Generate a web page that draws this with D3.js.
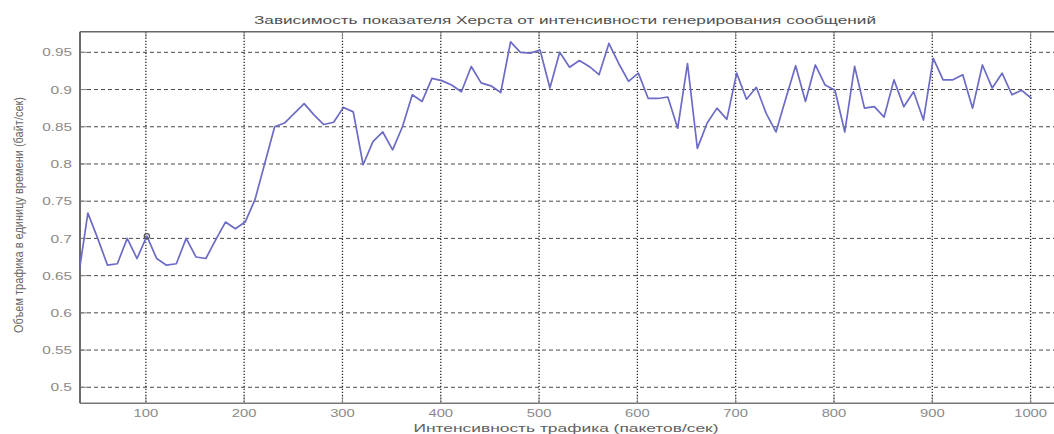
<!DOCTYPE html>
<html>
<head>
<meta charset="utf-8">
<script src="https://cdn.jsdelivr.net/npm/d3@7"></script>
<style>
  html, body { margin: 0; padding: 0; background: #fff; }
  svg { display: block; }
  text { font-family: "Liberation Sans", Arial, sans-serif; }
</style>
</head>
<body>
<svg id="chart" width="1054" height="434"></svg>
<script>
// ---- data ----
const xValues = [31,41,51,61,71,81,91,101,111,121,131,141,151,161,171,181,191,201,211,221,
  231,241,251,261,271,281,291,301,311,321,331,341,351,361,371,381,391,401,411,421,
  431,441,451,461,471,481,491,501,511,521,531,541,551,561,571,581,591,601,611,621,
  631,641,651,661,671,681,691,701,711,721,731,741,751,761,771,781,791,801,811,821,
  831,841,851,861,871,881,891,901,911,921,931,941,951,961,971,981,991,1001];
const hurstValues = [0.645,0.734,0.700,0.664,0.666,0.700,0.673,0.703,0.673,0.664,0.666,0.700,0.675,0.673,0.698,0.722,0.713,0.722,0.752,0.801,
  0.850,0.855,0.868,0.881,0.866,0.853,0.856,0.876,0.870,0.799,0.830,0.843,0.819,0.850,0.893,0.884,0.915,0.912,0.906,0.897,
  0.931,0.909,0.905,0.896,0.964,0.950,0.949,0.953,0.902,0.950,0.930,0.939,0.931,0.920,0.962,0.935,0.911,0.922,0.888,0.888,
  0.890,0.848,0.935,0.821,0.855,0.875,0.860,0.922,0.887,0.903,0.868,0.843,0.888,0.932,0.884,0.933,0.906,0.899,0.843,0.931,
  0.875,0.877,0.863,0.913,0.877,0.897,0.859,0.942,0.913,0.913,0.920,0.875,0.933,0.902,0.922,0.893,0.899,0.888];
const markerPoint = [101, 0.703];
const xTicks = [100,200,300,400,500,600,700,800,900,1000];
const yTicks = [0.5,0.55,0.6,0.65,0.7,0.75,0.8,0.85,0.9,0.95];
const yTickLabels = ["0.5","0.55","0.6","0.65","0.7","0.75","0.8","0.85","0.9","0.95"];
const titleText = "Зависимость показателя Херста от интенсивности генерирования сообщений";
const xLabelText = "Интенсивность трафика (пакетов/сек)";
const yLabelText = "Объем трафика в единицу времени (байт/сек)";

// ---- layout ----
const svg = d3.select("#chart");
const pLeft = 80, pTop = 31.7, pBottom = 403.3, pRight = 1065;
const x = d3.scaleLinear().domain([33, 1035]).range([pLeft, pRight]);
const y = d3.scaleLinear().domain([0.4785, 0.9777]).range([pBottom, pTop]);

svg.append("rect").attr("width", 1054).attr("height", 434).attr("fill", "#fff");

svg.append("defs").append("clipPath").attr("id", "plotclip")
  .append("rect").attr("x", pLeft).attr("y", pTop).attr("width", pRight - pLeft).attr("height", pBottom - pTop);

// grid: horizontal dashed
svg.append("g").selectAll("line").data(yTicks).join("line")
  .attr("x1", pLeft).attr("x2", pRight)
  .attr("y1", d => y(d)).attr("y2", d => y(d))
  .attr("stroke", "#4a4a4a").attr("stroke-width", 1)
  .attr("stroke-dasharray", "4,3");

// grid: vertical dotted
svg.append("g").selectAll("line").data(xTicks).join("line")
  .attr("x1", d => x(d)).attr("x2", d => x(d))
  .attr("y1", pTop).attr("y2", pBottom)
  .attr("stroke", "#2a2a2a").attr("stroke-width", 1.3)
  .attr("stroke-dasharray", "1.3,1.7");

// tick marks (inward)
svg.append("g").selectAll("line").data(xTicks).join("line")
  .attr("x1", d => x(d)).attr("x2", d => x(d))
  .attr("y1", pBottom).attr("y2", pBottom - 7)
  .attr("stroke", "#888").attr("stroke-width", 1);
svg.append("g").selectAll("line").data(xTicks).join("line")
  .attr("x1", d => x(d)).attr("x2", d => x(d))
  .attr("y1", pTop).attr("y2", pTop + 7)
  .attr("stroke", "#888").attr("stroke-width", 1);
svg.append("g").selectAll("line").data(yTicks).join("line")
  .attr("x1", pLeft).attr("x2", pLeft + 7)
  .attr("y1", d => y(d)).attr("y2", d => y(d))
  .attr("stroke", "#888").attr("stroke-width", 1);

// frame
svg.append("line").attr("x1", pLeft).attr("x2", pLeft).attr("y1", pTop).attr("y2", pBottom)
  .attr("stroke", "#6a6a6a").attr("stroke-width", 2);
svg.append("line").attr("x1", pLeft).attr("x2", pRight).attr("y1", pBottom).attr("y2", pBottom)
  .attr("stroke", "#777").attr("stroke-width", 1.6);
svg.append("line").attr("x1", pLeft).attr("x2", pRight).attr("y1", pTop).attr("y2", pTop)
  .attr("stroke", "#666").attr("stroke-width", 1.4);

// data line
const pts = xValues.map((v, i) => [v, hurstValues[i]]);
svg.append("path").datum(pts)
  .attr("clip-path", "url(#plotclip)")
  .attr("fill", "none")
  .attr("stroke", "#6c6cc6")
  .attr("stroke-width", 1.7)
  .attr("stroke-linejoin", "round")
  .attr("d", d3.line().x(d => x(d[0])).y(d => y(d[1])));

// marker
svg.append("circle")
  .attr("cx", x(markerPoint[0])).attr("cy", y(markerPoint[1])).attr("r", 2.6)
  .attr("fill", "none").attr("stroke", "#555").attr("stroke-width", 1.2);

// tick labels
function labelLen(s) {
  let n = 0;
  for (const c of s) n += (c === ".") ? 5.2 : 8.2;
  return n;
}
svg.append("g").selectAll("text").data(yTicks).join("text")
  .attr("x", pLeft - 8).attr("y", d => y(d))
  .attr("dy", "0.36em")
  .attr("text-anchor", "end")
  .attr("font-size", "11.5px").attr("fill", "#8a8a8a")
  .attr("textLength", (d, i) => labelLen(yTickLabels[i]))
  .attr("lengthAdjust", "spacingAndGlyphs")
  .text((d, i) => yTickLabels[i]);

svg.append("g").selectAll("text").data(xTicks).join("text")
  .attr("x", d => x(d)).attr("y", 416.5)
  .attr("text-anchor", "middle")
  .attr("font-size", "11.5px").attr("fill", "#8a8a8a")
  .attr("textLength", d => labelLen(String(d)))
  .attr("lengthAdjust", "spacingAndGlyphs")
  .text(d => String(d));

// title
svg.append("text")
  .attr("x", 565).attr("y", 23.5)
  .attr("text-anchor", "middle")
  .attr("font-size", "10.5px").attr("fill", "#505050")
  .attr("textLength", 622).attr("lengthAdjust", "spacingAndGlyphs")
  .text(titleText);

// x label
svg.append("text")
  .attr("x", 566).attr("y", 431.5)
  .attr("text-anchor", "middle")
  .attr("font-size", "10.5px").attr("fill", "#606060")
  .attr("textLength", 305).attr("lengthAdjust", "spacingAndGlyphs")
  .text(xLabelText);

// y label
svg.append("text")
  .attr("transform", "translate(23,215) rotate(-90) scale(1,1.25)")
  .attr("text-anchor", "middle")
  .attr("font-size", "10.5px").attr("fill", "#666")
  .attr("textLength", 236).attr("lengthAdjust", "spacingAndGlyphs")
  .text(yLabelText);
</script>
</body>
</html>
